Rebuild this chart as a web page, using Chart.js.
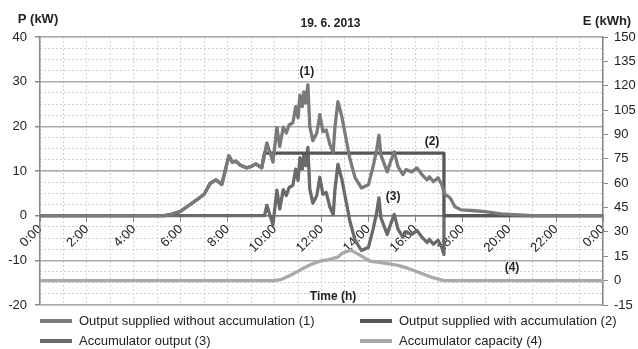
<!DOCTYPE html>
<html><head><meta charset="utf-8">
<script src="https://cdn.jsdelivr.net/npm/chart.js@4.4.1/dist/chart.umd.min.js"></script>
<style>html,body{margin:0;padding:0;background:#fff;}#wrap{width:638px;height:349px;position:relative;}</style>
</head><body><div id="wrap"><canvas id="c" width="638" height="349"></canvas></div>
<script>
const FONT = "'Liberation Sans', Arial, sans-serif";
const chartTitle = '19. 6. 2013';
const leftAxisTitle = 'P (kW)';
const rightAxisTitle = 'E (kWh)';
const xAxisTitle = 'Time (h)';
const seriesLabels = ['Output supplied without accumulation (1)','Output supplied with accumulation (2)','Accumulator output (3)','Accumulator capacity (4)'];
const curveTags = ['(1)','(2)','(3)','(4)'];

// Output supplied without accumulation (1), kW
const s1Hours = [0,5.3,5.6,6.0,6.4,6.8,7.0,7.25,7.5,7.75,8.05,8.2,8.35,8.55,8.8,9.0,9.2,9.45,9.67,9.93,10.1,10.22,10.37,10.5,10.62,10.78,10.9,11.0,11.08,11.18,11.25,11.33,11.42,11.5,11.63,11.8,11.93,12.06,12.2,12.36,12.5,12.57,12.7,12.87,13.0,13.2,13.43,13.7,14.0,14.2,14.35,14.45,14.53,14.8,14.9,15.1,15.26,15.47,15.6,15.85,16.07,16.28,16.5,16.6,16.77,16.97,17.13,17.22,17.27,17.48,17.69,17.95,18.54,18.97,19.65,20.4,21,24];
const s1Power = [0,0,0.3,1.0,2.5,4.0,4.8,7.2,8.0,7.0,13.4,12.0,12.2,11.3,10.7,11.0,11.6,10.7,16.3,12.0,19.7,15.5,19.8,18.5,20.3,20.8,24.4,21.9,27.0,24.4,27.7,25.2,29.3,20.0,16.8,18.5,22.6,18.8,19.2,15.9,14.2,19.7,25.5,22.1,18.5,13.0,8.5,6.2,6.9,11.0,14.7,18.0,13.6,9.8,11.4,14.3,11.0,9.2,10.3,9.8,10.7,9.2,8.0,8.7,7.6,8.5,6.9,5.3,4.8,4.0,2.0,1.3,1.1,0.9,0.4,0.2,0,0];

// Output supplied with accumulation (2), kW
const s2Hours = [0,5.3,5.6,6.0,6.4,6.8,7.0,7.25,7.5,7.75,8.05,8.2,8.35,8.55,8.8,9.0,9.2,9.45,9.57,17.22,17.22,24];
const s2Power = [0,0,0.3,1.0,2.5,4.0,4.8,7.2,8.0,7.0,13.4,12.0,12.2,11.3,10.7,11.0,11.6,10.7,14,14,0,0];

// Accumulator output (3), kW
const s3Hours = [0,9.45,9.57,9.67,9.93,10.1,10.22,10.37,10.5,10.62,10.78,10.9,11.0,11.08,11.18,11.25,11.33,11.42,11.5,11.63,11.8,11.93,12.06,12.2,12.36,12.5,12.57,12.7,12.87,13.0,13.2,13.43,13.7,14.0,14.2,14.35,14.45,14.53,14.8,14.9,15.1,15.26,15.47,15.6,15.85,16.07,16.28,16.5,16.6,16.77,16.97,17.13,17.22,17.22,24];
const s3Power = [0,0,0,2.3,-2.0,5.7,1.5,5.8,4.5,6.3,6.8,10.4,7.9,13.0,10.4,13.7,11.2,15.3,6.0,2.8,4.5,8.6,4.8,5.2,1.9,0.2,5.7,11.5,8.1,4.5,-1.0,-5.5,-7.8,-7.1,-3.0,0.7,4.0,-0.4,-4.2,-2.6,0.3,-3.0,-4.8,-3.7,-4.2,-3.3,-4.8,-6.0,-5.3,-6.4,-5.5,-7.1,-8.7,0,0];

// Accumulator capacity (4), kWh
const s4Hours = [0,10.0,10.3,10.66,11.08,11.5,11.93,12.3,12.7,12.9,13.25,13.6,14.07,14.7,15.26,15.7,16.1,16.67,17.22,24];
const s4Energy = [0,0,0.8,3.2,6.5,9.6,12.0,13.0,14.5,17.0,18.8,16.0,12.0,10.8,9.4,7.5,5.3,2.2,0,0];

// axis ranges / ticks
const hourTicks = [0,2,4,6,8,10,12,14,16,18,20,22,24];
const powerRange = [-20, 40, 10];
const energyRange = [-15, 150, 15];

const pts = (xs, ys) => xs.map((x, i) => ({x: x, y: ys[i]}));
const colors = ['#7a7a7a', '#575757', '#6a6a6a', '#a9a9a9'];

const tagPlacement = [
  {axis:'y', x:11.38, y:32.2},
  {axis:'y', x:16.71, y:16.5},
  {axis:'y', x:15.05, y:4.2},
  {axis:'y2', x:20.12, y:7.8}
];

const textPlugin = {
  id: 'texts',
  afterDraw(chart) {
    const ctx = chart.ctx, ca = chart.chartArea, sx = chart.scales.x;
    ctx.save();
    ctx.fillStyle = '#222';
    ctx.textAlign = 'center';
    ctx.textBaseline = 'middle';
    ctx.font = 'bold 12px ' + FONT;
    ctx.fillText(chartTitle, (ca.left + ca.right) / 2 + 9, 24);
    ctx.font = 'bold 13px ' + FONT;
    ctx.fillText(leftAxisTitle, 38, 19);
    ctx.fillText(rightAxisTitle, 607, 21);
    ctx.font = 'bold 12px ' + FONT;
    ctx.fillText(xAxisTitle, sx.getPixelForValue(12.49), chart.scales.y.getPixelForValue(-18.1));
    curveTags.forEach((t, i) => {
      const p = tagPlacement[i];
      ctx.fillText(t, sx.getPixelForValue(p.x), chart.scales[p.axis].getPixelForValue(p.y));
    });
    // legend
    ctx.font = '13px ' + FONT;
    ctx.textAlign = 'left';
    const cols = [40, 360], rows = [321, 341];
    chart.data.datasets.forEach((ds, i) => {
      const cx = cols[i % 2], cy = rows[Math.floor(i / 2)];
      ctx.strokeStyle = ds.borderColor;
      ctx.lineWidth = 4;
      ctx.beginPath(); ctx.moveTo(cx, cy); ctx.lineTo(cx + 32, cy); ctx.stroke();
      ctx.fillStyle = '#222';
      ctx.fillText(ds.label, cx + 39, cy);
    });
    ctx.restore();
  }
};

const lineDs = (label, data, color, axis) => ({
  label: label, data: data, borderColor: color, backgroundColor: color,
  borderWidth: 3.3, borderJoinStyle: 'round', borderCapStyle: 'round',
  pointRadius: 0, tension: 0, fill: false, yAxisID: axis, xAxisID: 'x'
});

new Chart(document.getElementById('c'), {
  type: 'line',
  data: {
    datasets: [
      lineDs(seriesLabels[0], pts(s1Hours, s1Power), colors[0], 'y'),
      lineDs(seriesLabels[1], pts(s2Hours, s2Power), colors[1], 'y'),
      lineDs(seriesLabels[2], pts(s3Hours, s3Power), colors[2], 'y'),
      lineDs(seriesLabels[3], pts(s4Hours, s4Energy), colors[3], 'y2')
    ]
  },
  options: {
    responsive: false, animation: false, devicePixelRatio: 1,
    layout: {padding: {top: 37, bottom: 44, left: 0, right: 0}},
    plugins: {legend: {display: false}, tooltip: {enabled: false}, title: {display: false}},
    scales: {
      xg: {type: 'linear', position: 'bottom', min: 0, max: 24,
        ticks: {display: false, stepSize: 1},
        grid: {color: '#d2d2d2', lineWidth: 1, drawTicks: false},
        border: {display: false, dash: [2, 2]},
        afterFit(s) { s.height = 0; }},
      yg: {type: 'linear', position: 'left', min: powerRange[0], max: powerRange[1],
        ticks: {display: false, stepSize: 2.5},
        grid: {color: '#d2d2d2', lineWidth: 1, drawTicks: false},
        border: {display: false, dash: [2, 2]},
        afterFit(s) { s.width = 0; }},
      x: {type: 'linear', position: {y: 0}, min: 0, max: 24,
        afterBuildTicks(s) { s.ticks = hourTicks.map(v => ({value: v})); },
        ticks: {autoSkip: false, maxRotation: 45, minRotation: 45, padding: 1, color: '#222',
          font: {size: 13, family: FONT}, callback: v => (v % 24) + ':00'},
        grid: {drawOnChartArea: false, drawTicks: true, tickLength: 5, color: '#808080', lineWidth: 1},
        border: {display: true, color: '#777', width: 1.5}},
      y: {position: 'left', min: powerRange[0], max: powerRange[1],
        ticks: {stepSize: powerRange[2], color: '#222', font: {size: 13, family: FONT}, padding: 8},
        grid: {color: '#ababab', lineWidth: 1.5, tickLength: 5, tickColor: '#888'},
        border: {color: '#888', width: 1.5},
        afterFit(s) { s.width = 40; }},
      y2: {position: 'right', min: energyRange[0], max: energyRange[1],
        ticks: {stepSize: energyRange[2], color: '#222', font: {size: 13, family: FONT}, padding: 6},
        grid: {drawOnChartArea: false, tickLength: 5, color: '#888'},
        border: {color: '#888', width: 1.5},
        afterFit(s) { s.width = 35; }}
    }
  },
  plugins: [textPlugin]
});
</script></body></html>
